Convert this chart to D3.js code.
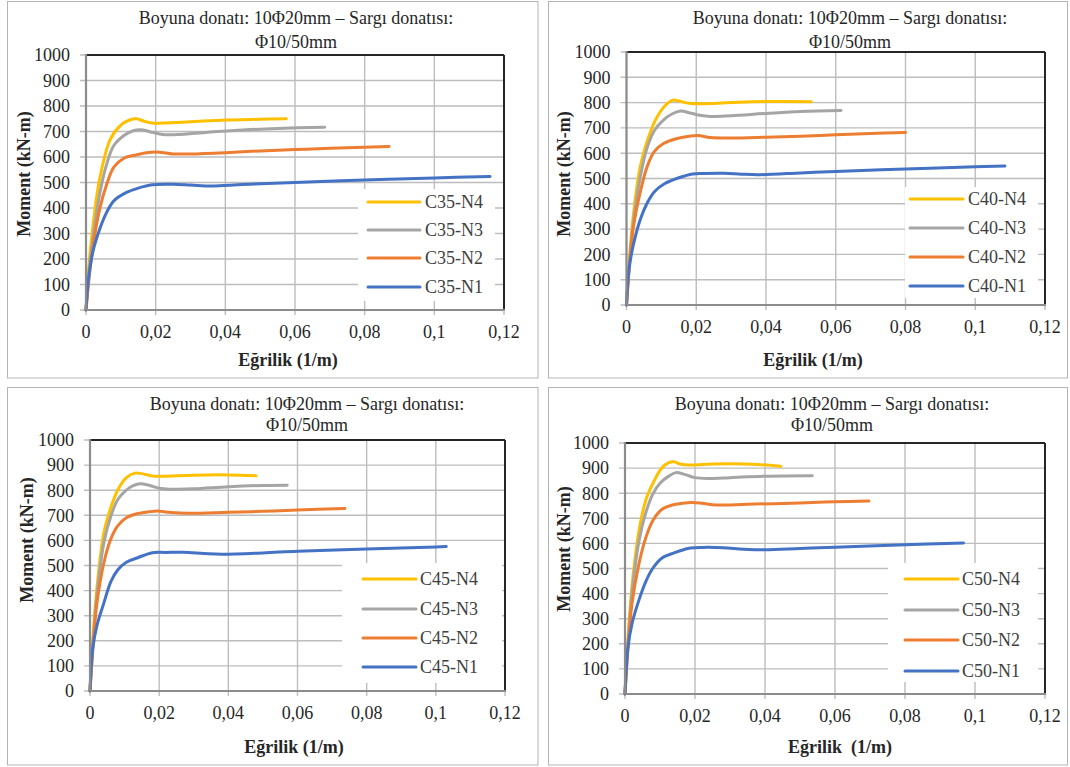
<!DOCTYPE html>
<html><head><meta charset="utf-8">
<script src="https://cdn.jsdelivr.net/npm/d3@7"></script>
<style>
html,body{margin:0;padding:0;background:#fff;}
svg text{font-family:"Liberation Serif","Times New Roman","DejaVu Serif",serif;}
</style></head>
<body>
<svg id="chart" width="1070" height="767" style="display:block"></svg>
<script>
// ---------- DATA ----------
const titleLine1 = "Boyuna donatı: 10Φ20mm – Sargı donatısı:";
const titleLine2 = "Φ10/50mm";
const yAxisTitle = "Moment (kN-m)";
const xAxisTitles = ["Eğrilik (1/m)", "Eğrilik (1/m)", "Eğrilik (1/m)", "Eğrilik  (1/m)"];
const xTicks = [0, 0.02, 0.04, 0.06, 0.08, 0.1, 0.12];
const yTicks = [0, 100, 200, 300, 400, 500, 600, 700, 800, 900, 1000];
const seriesColors = ["#FFC000", "#A5A5A5", "#ED7D31", "#4472C4"];

const c35Names = ["C35-N4", "C35-N3", "C35-N2", "C35-N1"];
const c35N4 = [[0,0],[0.001,200],[0.002,330],[0.004,520],[0.007,670],[0.010,725],[0.0125,745],[0.0145,750],[0.0165,741],[0.019,733],[0.022,733],[0.03,738],[0.04,745],[0.05,748],[0.0575,750]];
const c35N3 = [[0,0],[0.001,170],[0.002,280],[0.004,460],[0.006,575],[0.008,645],[0.011,685],[0.0135,703],[0.016,707],[0.019,697],[0.022,688],[0.026,688],[0.035,697],[0.045,706],[0.055,712],[0.0685,717]];
const c35N2 = [[0,0],[0.001,140],[0.002,250],[0.004,400],[0.006,495],[0.008,560],[0.011,596],[0.014,607],[0.018,618],[0.021,619],[0.025,612],[0.03,612],[0.04,617],[0.05,624],[0.06,629],[0.07,634],[0.087,641]];
const c35N1 = [[0,0],[0.0007,120],[0.002,230],[0.004,320],[0.006,385],[0.008,428],[0.0115,460],[0.015,478],[0.019,491],[0.025,493],[0.03,490],[0.036,486],[0.045,492],[0.06,500],[0.08,510],[0.1,518],[0.116,524]];

const c40Names = ["C40-N4", "C40-N3", "C40-N2", "C40-N1"];
const c40N4 = [[0,0],[0.001,210],[0.002,360],[0.004,550],[0.007,690],[0.0095,760],[0.012,800],[0.0135,810],[0.015,806],[0.018,797],[0.021,795],[0.03,800],[0.04,804],[0.053,803]];
const c40N3 = [[0,0],[0.001,190],[0.002,330],[0.004,510],[0.006,625],[0.008,690],[0.0105,730],[0.013,755],[0.0155,767],[0.018,760],[0.021,750],[0.024,745],[0.03,748],[0.04,757],[0.05,765],[0.0615,769]];
const c40N2 = [[0,0],[0.001,180],[0.002,310],[0.004,450],[0.006,550],[0.008,607],[0.0105,637],[0.014,656],[0.018,667],[0.0205,670],[0.024,662],[0.03,660],[0.04,663],[0.05,667],[0.06,673],[0.07,678],[0.08,682]];
const c40N1 = [[0,0],[0.0007,140],[0.002,240],[0.004,340],[0.006,405],[0.008,448],[0.011,480],[0.015,503],[0.019,518],[0.022,520],[0.028,521],[0.033,517],[0.038,515],[0.05,522],[0.06,528],[0.08,538],[0.1,546],[0.1085,549]];

const c45Names = ["C45-N4", "C45-N3", "C45-N2", "C45-N1"];
const c45N4 = [[0,0],[0.001,240],[0.002,410],[0.004,630],[0.006,730],[0.008,800],[0.0105,850],[0.013,868],[0.015,866],[0.018,857],[0.021,856],[0.03,860],[0.04,861],[0.048,858]];
const c45N3 = [[0,0],[0.001,220],[0.002,380],[0.004,590],[0.006,695],[0.008,762],[0.0105,800],[0.0125,818],[0.0145,826],[0.017,820],[0.02,808],[0.023,804],[0.03,806],[0.04,814],[0.05,819],[0.057,820]];
const c45N2 = [[0,0],[0.001,200],[0.002,350],[0.004,510],[0.006,605],[0.008,658],[0.0105,690],[0.0135,706],[0.017,714],[0.0195,717],[0.023,712],[0.028,708],[0.04,712],[0.05,716],[0.06,721],[0.0737,727]];
const c45N1 = [[0,0],[0.0008,170],[0.002,260],[0.004,350],[0.006,435],[0.008,482],[0.0105,513],[0.014,532],[0.018,551],[0.022,552],[0.027,553],[0.033,548],[0.038,545],[0.05,550],[0.06,557],[0.08,566],[0.1,574],[0.103,576]];

const c50Names = ["C50-N4", "C50-N3", "C50-N2", "C50-N1"];
const c50N4 = [[0,0],[0.001,250],[0.002,430],[0.004,650],[0.006,775],[0.008,840],[0.0105,900],[0.0125,922],[0.014,925],[0.016,915],[0.0185,912],[0.025,916],[0.03,917],[0.038,914],[0.0445,907]];
const c50N3 = [[0,0],[0.001,230],[0.002,400],[0.004,610],[0.006,725],[0.008,798],[0.01,840],[0.0125,868],[0.0145,882],[0.017,875],[0.02,862],[0.024,859],[0.03,862],[0.04,868],[0.0535,870]];
const c50N2 = [[0,0],[0.001,210],[0.002,360],[0.004,520],[0.006,625],[0.008,692],[0.0105,735],[0.0135,753],[0.0165,760],[0.019,763],[0.022,760],[0.026,753],[0.035,756],[0.05,761],[0.06,766],[0.0697,769]];
const c50N1 = [[0,0],[0.0008,180],[0.002,280],[0.004,375],[0.006,450],[0.008,502],[0.0105,541],[0.014,562],[0.018,580],[0.022,584],[0.028,583],[0.034,577],[0.04,575],[0.05,580],[0.06,585],[0.08,595],[0.0967,602]];

const panelNames = [c35Names, c40Names, c45Names, c50Names];
const panelSeries = [[c35N4,c35N3,c35N2,c35N1],[c40N4,c40N3,c40N2,c40N1],[c45N4,c45N3,c45N2,c45N1],[c50N4,c50N3,c50N2,c50N1]];

// ---------- LAYOUT ----------
const layouts = [
  {box:[7.5,1.5,538,378], pl:86, pr:504, pt:55, pb:310, tx:296, ty:[18,42], xlx:288, xly:360, ylx:24, yly:174,
   leg:[358,189,495,301], legY:[202,230,258,287], legL:368, legR:420, legT:425},
  {box:[548.5,1.5,1067.5,378], pl:626.5, pr:1045, pt:52, pb:305, tx:850, ty:[18,42], xlx:813, xly:360, ylx:564, yly:174,
   leg:[905,187,1038,298], legY:[199,228,257,286], legL:910, legR:963, legT:968},
  {box:[7.5,387.5,538,765], pl:90, pr:505, pt:440, pb:691, tx:307, ty:[404,425], xlx:294, xly:747, ylx:27, yly:540,
   leg:[342,563,502,683], legY:[579,609,638,667], legL:363, legR:416, legT:420},
  {box:[548.5,387.5,1067.5,765], pl:625, pr:1045, pt:443, pb:694, tx:832, ty:[404,425], xlx:840, xly:747, ylx:564, yly:549,
   leg:[888,563,1038,682], legY:[579,610,640,671], legL:905, legR:958, legT:962}
];

const svg = d3.select("#chart");
const fmt = d => String(d).replace(".", ",");
const FS = 18;
const FF = "Liberation Serif";

layouts.forEach((L, pi) => {
  const g = svg.append("g").attr("font-family", FF);
  g.append("rect").attr("x", L.box[0]).attr("y", L.box[1])
    .attr("width", L.box[2]-L.box[0]).attr("height", L.box[3]-L.box[1])
    .attr("fill", "#fff").attr("stroke", "#b4b4b4").attr("stroke-width", 1);

  const x = d3.scaleLinear().domain([0, 0.12]).range([L.pl, L.pr]);
  const y = d3.scaleLinear().domain([0, 1000]).range([L.pb, L.pt]);

  g.append("g").selectAll("line").data(yTicks).join("line")
    .attr("x1", L.pl - 6).attr("x2", L.pr).attr("y1", d => y(d)).attr("y2", d => y(d))
    .attr("stroke", "#bdbdbd").attr("stroke-width", 1.4);
  g.append("g").selectAll("line").data(xTicks).join("line")
    .attr("x1", d => x(d)).attr("x2", d => x(d)).attr("y1", L.pt).attr("y2", L.pb + 5)
    .attr("stroke", "#bdbdbd").attr("stroke-width", 1.4);

  const line = d3.line().x(d => x(d[0])).y(d => y(d[1])).curve(d3.curveCatmullRom.alpha(0.5));
  panelSeries[pi].forEach((s, si) => {
    g.append("path").attr("d", line(s)).attr("fill", "none")
      .attr("stroke", seriesColors[si]).attr("stroke-width", 3)
      .attr("stroke-linecap", "round").attr("stroke-linejoin", "round");
  });

  g.append("line").attr("x1", L.pl).attr("x2", L.pr).attr("y1", L.pt).attr("y2", L.pt)
    .attr("stroke", "#262626").attr("stroke-width", 2);
  g.append("line").attr("x1", L.pr).attr("x2", L.pr).attr("y1", L.pt).attr("y2", L.pb)
    .attr("stroke", "#262626").attr("stroke-width", 2);
  g.append("line").attr("x1", L.pl).attr("x2", L.pl).attr("y1", L.pt - 1).attr("y2", L.pb)
    .attr("stroke", "#8c8c8c").attr("stroke-width", 2.2);
  g.append("line").attr("x1", L.pl).attr("x2", L.pr + 1).attr("y1", L.pb).attr("y2", L.pb)
    .attr("stroke", "#8c8c8c").attr("stroke-width", 2.2);

  const leg = g.append("g");
  leg.append("rect").attr("x", L.leg[0]).attr("y", L.leg[1])
    .attr("width", L.leg[2]-L.leg[0]).attr("height", L.leg[3]-L.leg[1]).attr("fill", "#fff");
  panelNames[pi].forEach((n, si) => {
    leg.append("line").attr("x1", L.legL).attr("x2", L.legR)
      .attr("y1", L.legY[si]).attr("y2", L.legY[si])
      .attr("stroke", seriesColors[si]).attr("stroke-width", 3).attr("stroke-linecap", "round");
    leg.append("text").attr("x", L.legT).attr("y", L.legY[si]).attr("dy", "0.35em")
      .attr("font-size", FS).attr("fill", "#404040").text(n);
  });

  g.append("g").selectAll("text").data(yTicks).join("text")
    .attr("x", L.pl - 16).attr("y", d => y(d)).attr("dy", "0.35em")
    .attr("text-anchor", "end").attr("font-size", FS).attr("fill", "#262626").text(d => d);
  g.append("g").selectAll("text").data(xTicks).join("text")
    .attr("x", d => x(d)).attr("y", L.pb + 22).attr("dy", "0.35em")
    .attr("text-anchor", "middle").attr("font-size", FS).attr("fill", "#262626").text(fmt);

  g.append("text").attr("x", L.tx).attr("y", L.ty[0]).attr("dy", "0.35em")
    .attr("text-anchor", "middle").attr("font-size", FS).attr("fill", "#262626").text(titleLine1);
  g.append("text").attr("x", L.tx).attr("y", L.ty[1]).attr("dy", "0.35em")
    .attr("text-anchor", "middle").attr("font-size", FS).attr("fill", "#262626").text(titleLine2);
  g.append("text").attr("x", L.xlx).attr("y", L.xly).attr("dy", "0.35em")
    .attr("text-anchor", "middle").attr("font-size", FS).attr("font-weight", "bold")
    .attr("fill", "#262626").style("white-space", "pre").text(xAxisTitles[pi]);
  g.append("text").attr("transform", `translate(${L.ylx},${L.yly}) rotate(-90)`).attr("dy", "0.35em")
    .attr("text-anchor", "middle").attr("font-size", FS).attr("font-weight", "bold")
    .attr("fill", "#262626").text(yAxisTitle);
});
</script>
</body></html>
